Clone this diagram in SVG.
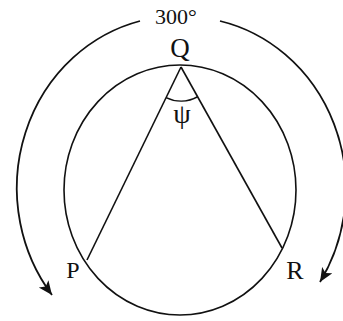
<svg xmlns="http://www.w3.org/2000/svg" width="343" height="321" viewBox="0 0 343 321">
<style>
.ln{fill:none;stroke:#111;stroke-width:1.6}
.arc{fill:none;stroke:#111;stroke-width:1.8}
.lbl{font-family:"Liberation Serif","Times New Roman",serif;fill:#111}
</style>
<defs>
<marker id="ah" markerUnits="userSpaceOnUse" markerWidth="16" markerHeight="13" refX="14" refY="6" orient="auto">
<path d="M0,0 L14,6 L0,12 L3.5,6 z" fill="#111"/>
</marker>
</defs>
<rect width="343" height="321" fill="#fff"/>
<g id="circle">
<ellipse class="ln" cx="180" cy="190" rx="116" ry="125"/>
</g>
<g id="connectors">
<line class="ln" x1="181" y1="67" x2="87" y2="260"/>
<line class="ln" x1="181" y1="67" x2="282" y2="248"/>
<path class="ln" d="M166.1,97.6 A34,34 0 0 0 197.6,96.7"/>
<path class="arc" d="M140,21 A162,172 0 0 0 52,295" marker-end="url(#ah)"/>
<path class="arc" d="M220,21 A162,172 0 0 1 320,282" marker-end="url(#ah)"/>
</g>
<g id="label-300"><text class="lbl" x="176" y="24" font-size="22" text-anchor="middle">300°</text></g>
<g id="node-Q"><text class="lbl" x="180" y="57" font-size="27" text-anchor="middle">Q</text></g>
<g id="node-psi"><text class="lbl" x="182" y="123" font-size="28" text-anchor="middle">ψ</text></g>
<g id="node-P"><text class="lbl" x="73" y="278" font-size="24" text-anchor="middle">P</text></g>
<g id="node-R"><text class="lbl" x="295" y="279" font-size="26" text-anchor="middle">R</text></g>
</svg>
